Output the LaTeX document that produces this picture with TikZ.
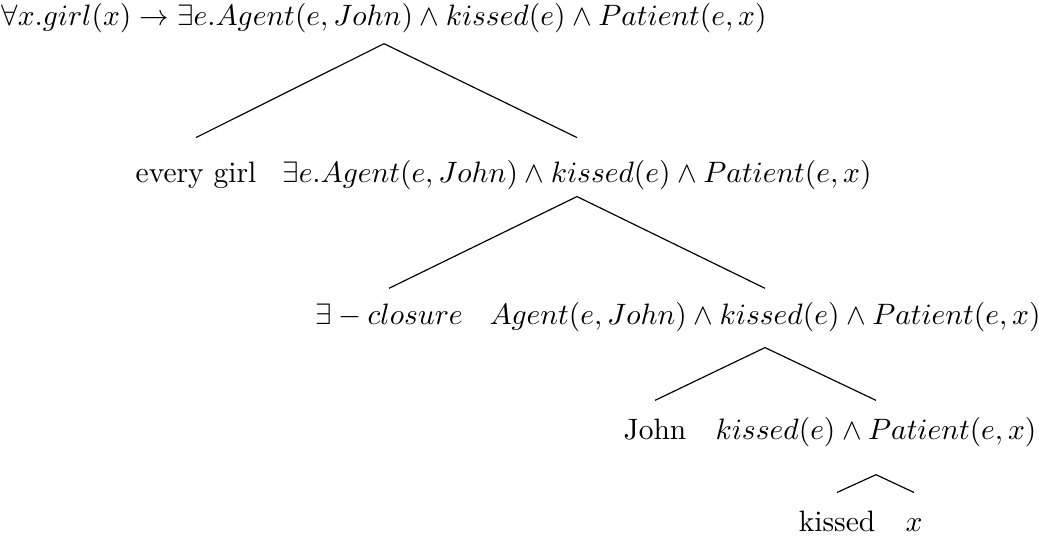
\documentclass[tikz,border=0pt]{standalone}
\usepackage{amsmath}
\usepackage{amssymb}
\usepackage{tikz}
\usetikzlibrary{positioning}

\begin{document}
\begin{tikzpicture}[x=0.339pt, y=-0.339pt, term/.style={anchor=base, inner sep=0pt}]
    \useasboundingbox (0,0) rectangle (1039,539);
    \node (root) [term, text depth=5.9pt] at (384,25.7) {$\forall x.girl(x) \rightarrow \exists e.Agent(e, John) \wedge kissed(e) \wedge Patient(e, x)$};
    \node (girl) [term, text height=15pt] at (196,182.4) {every girl};
    \node (exist) [term, text height=15pt, text depth=4.6pt] at (577,182.4) {$\exists e.Agent(e, John) \wedge kissed(e) \wedge Patient(e, x)$};
    \node (closure) [term, text height=11.9pt] at (389,324) {$\exists - closure$};
    \node (agent) [term, text height=11.9pt, text depth=7.8pt] at (765,324) {$Agent(e, John) \wedge kissed(e) \wedge Patient(e, x)$};
    \node (john) [term, text height=12.9pt] at (655,439) {John};
    \node (kisspat) [term, text height=12.9pt, text depth=11.9pt] at (876,439) {$kissed(e) \wedge Patient(e, x)$};
    \node (kissed) [term, text height=13.1pt] at (837,531.7) {kissed};
    \node (var) [term, text height=13.1pt] at (914,531.7) {$x$};

    \draw (root.south) -- (girl.north);
    \draw (root.south) -- (exist.north);
    \draw (exist.south) -- (closure.north);
    \draw (exist.south) -- (agent.north);
    \draw (agent.south) -- (john.north);
    \draw (agent.south) -- (kisspat.north);
    \draw (kisspat.south) -- (kissed.north);
    \draw (kisspat.south) -- (var.north);
\end{tikzpicture}
\end{document}
